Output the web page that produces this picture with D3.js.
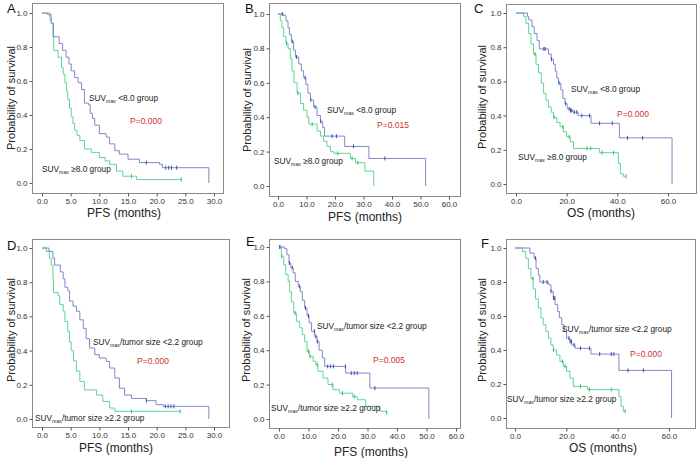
<!DOCTYPE html>
<html><head><meta charset="utf-8">
<script src="https://cdn.jsdelivr.net/npm/d3@7"></script>
<style>
body{margin:0;background:#fff;}
svg{display:block;font-family:"Liberation Sans",Arial,Helvetica,sans-serif;}
</style></head>
<body>
<svg id="chart" width="700" height="458"></svg>
<script>
// ---------- DATA (time in months, survival probability) ----------
const yTicks = [0, 0.2, 0.4, 0.6, 0.8, 1.0];
const xTicksPFS30 = [0, 5, 10, 15, 20, 25, 30];
const xTicks60by10 = [0, 10, 20, 30, 40, 50, 60];
const xTicks60by20 = [0, 20, 40, 60];

// Panel A : SUVmax, PFS
const aLow = [[0,1],[1.0,0.99],[1.6,0.94],[2.0,0.86],[3.0,0.82],[3.6,0.78],[4.2,0.74],[4.7,0.70],[5.1,0.66],[5.7,0.62],[6.3,0.59],[6.9,0.55],[7.4,0.47],[8.1,0.46],[8.4,0.41],[8.8,0.38],[9.2,0.34],[10.0,0.29],[11.2,0.27],[11.8,0.23],[12.7,0.19],[13.5,0.17],[15.0,0.14],[17.0,0.12],[20.5,0.11],[21.0,0.09],[29.1,0]];
const aLowCens = [18.2, 21.6, 22.1, 22.6, 23.5];
const aHigh = [[0,1],[1.4,0.96],[1.6,0.94],[1.9,0.86],[2.05,0.78],[2.8,0.74],[3.4,0.68],[3.7,0.64],[4.0,0.59],[4.3,0.54],[4.5,0.49],[4.8,0.44],[5.1,0.39],[5.4,0.35],[5.7,0.31],[6.1,0.28],[6.6,0.25],[7.4,0.20],[8.6,0.18],[10.0,0.15],[11.0,0.13],[11.8,0.11],[13.0,0.07],[14.1,0.04],[16.5,0.02],[24.3,0.02]];
const aHighCens = [15.6, 24.3];

// Panel B : SUVmax, PFS
const bLow = [[0,1],[2,0.99],[2.8,0.96],[3.5,0.92],[4,0.88],[4.7,0.84],[5.5,0.79],[6.1,0.75],[7.3,0.71],[8.2,0.67],[9,0.63],[9.8,0.59],[10.5,0.54],[11.4,0.5],[12.5,0.46],[13.7,0.41],[14.9,0.375],[15.7,0.34],[16.3,0.29],[23.4,0.23],[31.9,0.16],[51.8,0]];
const bLowCens = [1.5, 5, 6.5, 9.5, 11.5, 13, 15, 19, 20.5, 26.5, 37.5];
const bHigh = [[0,1],[0.8,0.96],[1.4,0.92],[2,0.87],[2.8,0.83],[3.5,0.8],[4.3,0.74],[4.9,0.67],[5.6,0.6],[6.7,0.54],[7.9,0.48],[9,0.44],[10.2,0.4],[10.8,0.36],[13.7,0.32],[14.9,0.29],[16,0.26],[17.2,0.23],[18.4,0.2],[19.6,0.19],[25.4,0.16],[27.2,0.135],[30.5,0.087],[33.6,0]];
const bHighCens = [3, 7, 12, 21, 26, 28];

// Panel C : SUVmax, OS
const cLow = [[0,1],[4.5,0.98],[5,0.96],[6.3,0.92],[7.2,0.88],[8.3,0.84],[9.2,0.79],[12.8,0.76],[13.9,0.73],[14.8,0.7],[15.5,0.66],[16.1,0.62],[16.8,0.59],[17.7,0.55],[18.5,0.5],[19.4,0.47],[20.2,0.44],[21.5,0.43],[22.5,0.42],[24.5,0.40],[29.6,0.355],[40.8,0.27],[61.6,0]];
const cLowCens = [11, 11.5, 14, 17, 19.5, 21, 21.5, 22, 23, 24, 26, 29, 33, 38, 44, 50];
const cHigh = [[0,1],[3,0.98],[3.9,0.94],[5,0.88],[5.9,0.82],[6.9,0.76],[7.9,0.7],[8.9,0.65],[10,0.59],[10.9,0.53],[11.8,0.49],[12.8,0.45],[13.9,0.42],[14.8,0.39],[16.1,0.36],[17.4,0.335],[18.7,0.305],[20,0.276],[21.4,0.247],[22.7,0.208],[33,0.183],[40.4,0.12],[41.2,0.06],[42.4,0.045],[43.4,0.045]];
const cHighCens = [7.5, 15, 18.5, 21, 28, 29.5, 34, 38.5, 43.4];

// Panel D : SUVmax/tumor size, PFS
const dLow = [[0,1],[1.2,0.98],[1.9,0.94],[2.2,0.9],[3.2,0.86],[3.7,0.82],[4.0,0.77],[4.5,0.75],[4.8,0.69],[5.4,0.66],[6,0.63],[6.6,0.58],[7.2,0.53],[7.7,0.47],[8.3,0.415],[9.2,0.376],[10,0.357],[11.2,0.337],[11.8,0.298],[12.7,0.24],[13.5,0.18],[14.4,0.14],[15.6,0.12],[18.2,0.107],[19.9,0.084],[21.1,0.074],[29.1,0]];
const dLowCens = [18.2, 21.5, 22, 22.5, 23];
const dHigh = [[0,1],[0.8,0.98],[1.3,0.94],[1.6,0.9],[1.9,0.82],[2.0,0.74],[2.8,0.72],[3.1,0.67],[3.7,0.63],[4,0.57],[4.5,0.51],[4.8,0.45],[5.1,0.4],[5.5,0.34],[6,0.28],[6.6,0.22],[7.4,0.17],[9.5,0.14],[10.6,0.103],[11.8,0.064],[12.7,0.045],[24.1,0.045]];
const dHighCens = [15.6, 24.1];

// Panel E : SUVmax/tumor size, PFS
const eLow = [[0,1],[1.9,0.99],[2.7,0.955],[3.4,0.907],[4,0.88],[4.8,0.85],[5.5,0.8],[6.5,0.77],[7.2,0.74],[7.9,0.69],[8.7,0.645],[9.5,0.6],[10.2,0.56],[11,0.51],[12.1,0.48],[12.9,0.45],[13.6,0.4],[14.7,0.355],[15.5,0.306],[22.6,0.267],[30.8,0.18],[50.8,0]];
const eLowCens = [0.3, 3.5, 4.5, 7, 9, 10, 12, 12.5, 13, 16.5, 17.5, 18.5, 22.5, 24.5, 25.5, 26.5, 32.5];
const eHigh = [[0,1],[0.8,0.946],[1.6,0.897],[2.3,0.84],[3.1,0.8],[3.6,0.74],[4.2,0.68],[5,0.616],[5.9,0.568],[7,0.53],[7.9,0.49],[8.7,0.45],[9.5,0.393],[10.4,0.364],[11.6,0.335],[12.5,0.316],[13.2,0.277],[14.9,0.238],[16.6,0.2],[18.3,0.17],[20.6,0.15],[25,0.13],[26.5,0.112],[29.4,0.074],[34.2,0.045],[36.5,0.037]];
const eHighCens = [0.2, 0.9, 5.5, 10, 10.5, 13, 18, 21.5, 25.5, 36.5];

// Panel F : SUVmax/tumor size, OS
const fLow = [[0,1],[5.8,0.97],[7.4,0.94],[8.2,0.88],[9.1,0.84],[9.7,0.8],[13,0.784],[14,0.745],[14.9,0.706],[15.6,0.667],[16.6,0.627],[17.3,0.59],[18.2,0.549],[19.1,0.51],[20.1,0.47],[21.4,0.45],[22.1,0.43],[23.4,0.41],[29.6,0.376],[40.5,0.28],[61,0]];
const fLowCens = [8, 11, 12.5, 14, 15, 15.5, 21, 21.5, 22, 23, 25.5, 29, 33, 37.5, 38.5, 44, 50];
const fHigh = [[0,1],[2.9,0.98],[4.2,0.94],[5.2,0.88],[6.2,0.82],[7.1,0.76],[8,0.7],[9.1,0.647],[10.1,0.588],[11,0.549],[12,0.51],[13,0.47],[14,0.43],[14.9,0.4],[16.2,0.37],[17.5,0.333],[18.8,0.304],[20.1,0.275],[21.4,0.235],[22.7,0.186],[28.3,0.167],[40.5,0.127],[41.3,0.069],[42.2,0.04],[42.9,0.04]];
const fHighCens = [7, 15, 18.5, 19.5, 25.5, 29, 37.5, 42.9];

const panelLetters = ["A","B","C","D","E","F"];
const xTitles = ["PFS (months)","PFS (months)","OS (months)","PFS (months)","PFS (months)","OS (months)"];
const pValues = ["P=0.000","P=0.015","P=0.000","P=0.000","P=0.005","P=0.000"];
const lowLabels = [" <8.0 group"," <8.0 group"," <8.0 group","/tumor size <2.2 group","/tumor size <2.2 group","/tumor size <2.2 group"];
const highLabels = [" \u22658.0 group"," \u22658.0 group"," \u22658.0 group","/tumor size \u22652.2 group","/tumor size \u22652.2 group","/tumor size \u22652.2 group"];

// ---------- LAYOUT (pixel geometry only) ----------
const layout = [
  {frame:[32,3,223,193],  xr:[42,214],  yr:[183,13],  xmax:30, ticks:xTicksPFS30, letter:[7,13],  ytl:[11,98],  xtl:[124,217], lowL:[89,101], pL:[130,124], highL:[42,172]},
  {frame:[269,3,460,196], xr:[278,449], yr:[186,14],  xmax:60, ticks:xTicks60by10, letter:[245,13], ytl:[247,100], xtl:[365,221], lowL:[327,113], pL:[377,128], highL:[274,164]},
  {frame:[506,4,696,193], xr:[516,668], yr:[184,13],  xmax:60, ticks:xTicks60by20, letter:[474,13], ytl:[482,97],  xtl:[601,217], lowL:[571,92],  pL:[617,117], highL:[518,160]},
  {frame:[32,239,229,427],xr:[42,214],  yr:[419,248], xmax:30, ticks:xTicksPFS30, letter:[7,250], ytl:[11,330], xtl:[116,452], lowL:[93,345],  pL:[137,364], highL:[35,421]},
  {frame:[269,239,460,428],xr:[279,456],yr:[419,247], xmax:60, ticks:xTicks60by10, letter:[246,246], ytl:[246,330], xtl:[371,456], lowL:[317,329], pL:[373,363], highL:[271,411]},
  {frame:[506,239,695,428],xr:[515,669],yr:[418,248], xmax:60, ticks:xTicks60by20, letter:[481,248], ytl:[482,330], xtl:[603,452], lowL:[562,332], pL:[630,357], highL:[507,402]}
];
const lowCurves = [aLow,bLow,cLow,dLow,eLow,fLow];
const lowCens = [aLowCens,bLowCens,cLowCens,dLowCens,eLowCens,fLowCens];
const highCurves = [aHigh,bHigh,cHigh,dHigh,eHigh,fHigh];
const highCens = [aHighCens,bHighCens,cHighCens,dHighCens,eHighCens,fHighCens];

const BLUE = "#8088c8", BLUE_MARK = "#3f4fb3";
const GREEN = "#5fd494", GREEN_MARK = "#2fbf6f";
const RED = "#d3302b";

const svg = d3.select("#chart");

function survAt(curve, t){
  let s = 1;
  for (const p of curve){ if (p[0] <= t) s = p[1]; else break; }
  return s;
}

layout.forEach((L, i) => {
  const g = svg.append("g");
  const x = d3.scaleLinear().domain([0, L.xmax]).range(L.xr);
  const y = d3.scaleLinear().domain([0, 1]).range(L.yr);
  const [fx0, fy0, fx1, fy1] = L.frame;

  g.append("rect").attr("x", fx0 + 0.5).attr("y", fy0 + 0.5)
    .attr("width", fx1 - fx0).attr("height", fy1 - fy0)
    .attr("fill", "none").attr("stroke", "#8a8a8a").attr("stroke-width", 1);

  // axes
  const ya = g.append("g").attr("transform", `translate(${fx0 + 0.5},0)`)
    .call(d3.axisLeft(y).tickValues(yTicks).tickFormat(d3.format(".1f")).tickSize(3).tickPadding(2));
  const xa = g.append("g").attr("transform", `translate(0,${fy1 + 0.5})`)
    .call(d3.axisBottom(x).tickValues(L.ticks).tickFormat(d3.format(".1f")).tickSize(3).tickPadding(2));
  [ya, xa].forEach(a => {
    a.select(".domain").remove();
    a.selectAll(".tick line").attr("stroke", "#555");
    a.selectAll(".tick text").attr("fill", "#333").style("font-size", "8px")
      .style("font-family", '"Liberation Sans",Arial,sans-serif');
  });

  const line = d3.line().x(d => x(d[0])).y(d => y(d[1])).curve(d3.curveStepAfter);

  const drawCurve = (curve, cens, col, mcol) => {
    g.append("path").datum(curve).attr("d", line).attr("fill", "none")
      .attr("stroke", col).attr("stroke-width", 1);
    g.selectAll(null).data(cens).enter().append("line")
      .attr("x1", d => x(d)).attr("x2", d => x(d))
      .attr("y1", d => y(survAt(curve, d)) - 2).attr("y2", d => y(survAt(curve, d)) + 2)
      .attr("stroke", mcol).attr("stroke-width", 1);
  };
  drawCurve(highCurves[i], highCens[i], GREEN, GREEN_MARK);
  drawCurve(lowCurves[i], lowCens[i], BLUE, BLUE_MARK);

  // panel letter
  g.append("text").attr("x", L.letter[0]).attr("y", L.letter[1]).text(panelLetters[i])
    .attr("fill", "#111").style("font-size", "13px");

  // axis titles
  g.append("text").attr("transform", `translate(${L.ytl[0]},${L.ytl[1]}) rotate(-90)`)
    .attr("text-anchor", "middle").attr("dy", "0.35em").attr("fill", "#222")
    .style("font-size", "11px").text("Probability of survival");
  g.append("text").attr("x", L.xtl[0]).attr("y", L.xtl[1]).attr("text-anchor", "middle")
    .attr("fill", "#222").style("font-size", "12px").text(xTitles[i]);

  // group labels
  const label = (pos, rest) => {
    const t = g.append("text").attr("x", pos[0]).attr("y", pos[1]).attr("fill", "#222")
      .style("font-size", "8.3px");
    t.append("tspan").text("SUV");
    t.append("tspan").attr("dy", 1.8).style("font-size", "5.2px").text("max");
    t.append("tspan").attr("dy", -1.8).text(rest[0] === " " ? "\u00a0" + rest.slice(1) : rest);
  };
  label(L.lowL, lowLabels[i]);
  label(L.highL, highLabels[i]);

  g.append("text").attr("x", L.pL[0]).attr("y", L.pL[1]).attr("fill", RED)
    .style("font-size", "8.5px").text(pValues[i]);
});
</script>
</body></html>
